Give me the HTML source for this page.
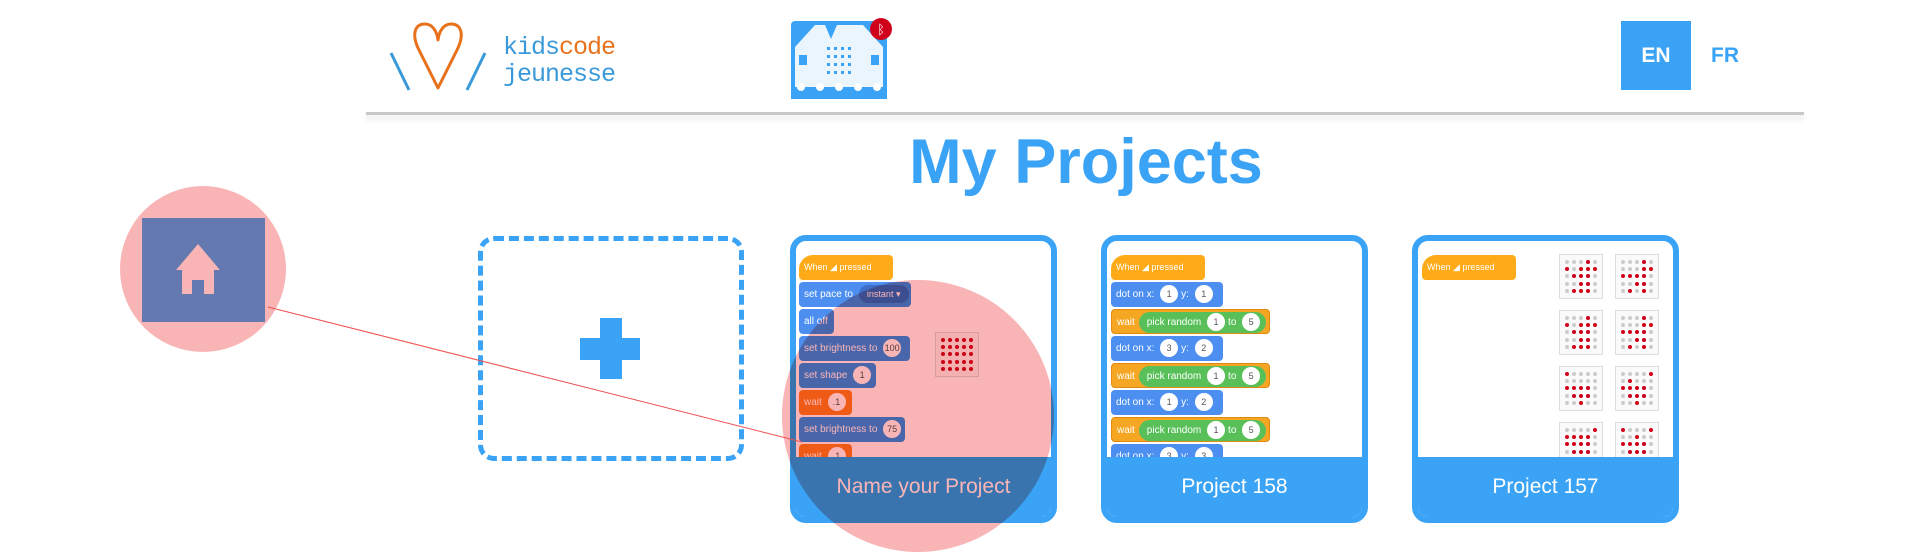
<!DOCTYPE html>
<html><head><meta charset="utf-8"><style>
*{margin:0;padding:0;box-sizing:border-box}
body{width:1920px;height:540px;background:#fff;position:relative;overflow:hidden;font-family:"Liberation Sans",sans-serif}
.a{position:absolute}
.card{position:absolute;top:235px;width:267px;height:288px;border:6px solid #3aa3f5;border-radius:16px;background:#fff;overflow:hidden}
.band{position:absolute;left:0;right:0;top:216px;bottom:0;background:#3aa3f5;color:#fff;font-size:21px;text-align:center;line-height:60px}
.b{position:absolute;height:25px;border-radius:4px;color:#fff;font-size:10px;line-height:25px;padding-left:5px;white-space:nowrap}
.hat{background:#ffab19;border-radius:14px 4px 4px 4px}
.blue{background:#4c8ff0}
.or{background:#f5a623;border:1px solid #e08a10}
.ow{background:#f5801f}
.p{display:inline-block;background:#fff;color:#555;border-radius:10px;height:18px;line-height:18px;min-width:18px;text-align:center;vertical-align:middle;margin:0 3px;font-size:9px}
.g{display:inline-block;background:#59c059;border-radius:11px;height:21px;line-height:21px;padding:0 3px 0 8px;vertical-align:middle;margin-left:4px}
.led{position:absolute;width:44px;height:45px;border:1px solid #ddd;background:#fafafa;display:grid;grid-template-columns:repeat(5,1fr);padding:4px;gap:2px}
.led i{width:4px;height:4px;border-radius:50%;background:#ccc;margin:auto}
.led i.r{background:#d0021b}
</style></head><body>

<!-- logo -->
<svg class="a" style="left:385px;top:18px" width="115" height="76" viewBox="0 0 115 76">
<path d="M53 70 L34 32 C26 16 30 6 40 6 C48 6 52 14 53 22 C54 14 58 6 66 6 C76 6 80 16 72 32 Z" fill="none" stroke="#e8721c" stroke-width="3" stroke-linejoin="round"/>
<line x1="6" y1="35" x2="24" y2="72" stroke="#3a9ad9" stroke-width="3"/>
<line x1="100" y1="35" x2="82" y2="72" stroke="#3a9ad9" stroke-width="3"/>
</svg>
<div class="a" style="left:503px;top:33px;font:25px 'Liberation Mono',monospace;color:#3a9ad9;letter-spacing:-1px">kids<span style="color:#e8721c">code</span></div>
<div class="a" style="left:503px;top:60px;font:25px 'Liberation Mono',monospace;color:#3a9ad9;letter-spacing:-1px">jeunesse</div>

<!-- microbit -->
<svg class="a" style="left:789px;top:17px" width="104" height="84" viewBox="0 0 104 84">
<rect x="2" y="4" width="96" height="78" rx="4" fill="#3aa3f5"/>
<rect x="6" y="8" width="88" height="66" fill="#eaf5fe"/>
<path d="M6 8 L26 8 L6 30Z M94 8 L74 8 L94 30Z M36 8 L48 8 L42 22Z" fill="#3aa3f5"/>
<g fill="#3aa3f5">
<rect x="38" y="30" width="3" height="3"/><rect x="45" y="30" width="3" height="3"/><rect x="52" y="30" width="3" height="3"/><rect x="59" y="30" width="3" height="3"/>
<rect x="38" y="38" width="3" height="3"/><rect x="45" y="38" width="3" height="3"/><rect x="52" y="38" width="3" height="3"/><rect x="59" y="38" width="3" height="3"/>
<rect x="38" y="46" width="3" height="3"/><rect x="45" y="46" width="3" height="3"/><rect x="52" y="46" width="3" height="3"/><rect x="59" y="46" width="3" height="3"/>
<rect x="38" y="54" width="3" height="3"/><rect x="45" y="54" width="3" height="3"/><rect x="52" y="54" width="3" height="3"/><rect x="59" y="54" width="3" height="3"/>
<rect x="10" y="38" width="8" height="10"/><rect x="82" y="38" width="8" height="10"/>
<rect x="2" y="70" width="96" height="12"/></g>
<g fill="#fff"><circle cx="12" cy="70" r="4"/><circle cx="31" cy="70" r="4"/><circle cx="50" cy="70" r="4"/><circle cx="69" cy="70" r="4"/><circle cx="88" cy="70" r="4"/></g>
<circle cx="92" cy="12" r="11" fill="#d0021b"/>
<text x="92" y="17" font-size="13" fill="#fff" text-anchor="middle" font-family="DejaVu Sans">ᛒ</text>
</svg>

<!-- lang -->
<div class="a" style="left:1621px;top:21px;width:70px;height:69px;background:#3aa3f5;color:#fff;font-weight:bold;font-size:21px;text-align:center;line-height:69px">EN</div>
<div class="a" style="left:1711px;top:21px;height:69px;color:#3aa3f5;font-weight:bold;font-size:21px;line-height:69px">FR</div>

<!-- header line -->
<div class="a" style="left:366px;top:112px;width:1438px;height:3px;background:#c8c8c8;box-shadow:0 4px 6px rgba(0,0,0,0.12)"></div>

<!-- title -->
<div class="a" style="left:0;width:1920px;top:126px;text-align:center;font-size:63px;font-weight:bold;color:#3aa3f5;padding-left:252px">My Projects</div>

<!-- dashed new box -->
<div class="a" style="left:478px;top:236px;width:266px;height:225px;border:5px dashed #3aa3f5;border-radius:16px"></div>
<div class="a" style="left:600px;top:318px;width:22px;height:61px;background:#3aa3f5"></div>
<div class="a" style="left:580px;top:338px;width:60px;height:22px;background:#3aa3f5"></div>

<!-- card 1 -->
<div class="card" style="left:790px">
<div class="b hat" style="left:3px;top:14px;width:94px;font-size:9px">When <span style="color:#fff">◢</span> pressed</div>
<div class="b blue" style="left:3px;top:41px;width:112px">set pace to <span class="p" style="background:#3d6ec8;color:#fff;width:50px">instant ▾</span></div>
<div class="b blue" style="left:3px;top:68px;width:35px">all off</div>
<div class="b blue" style="left:3px;top:95px;width:111px">set brightness to <span class="p">100</span></div>
<div class="b blue" style="left:3px;top:122px;width:77px">set shape <span class="p">1</span></div>
<div class="b ow" style="left:3px;top:149px;width:53px">wait <span class="p">.1</span></div>
<div class="b blue" style="left:3px;top:176px;width:106px">set brightness to <span class="p">75</span></div>
<div class="b ow" style="left:3px;top:203px;width:53px">wait <span class="p">.1</span></div>
<div class="led" style="left:139px;top:91px"><i class="r"></i><i class="r"></i><i class="r"></i><i class="r"></i><i class="r"></i><i class="r"></i><i class="r"></i><i class="r"></i><i class="r"></i><i class="r"></i><i class="r"></i><i class="r"></i><i class="r"></i><i class="r"></i><i class="r"></i><i class="r"></i><i class="r"></i><i class="r"></i><i class="r"></i><i class="r"></i><i class="r"></i><i class="r"></i><i class="r"></i><i class="r"></i><i class="r"></i></div>
<div class="band">Name your Project</div>
</div>

<!-- card 2 -->
<div class="card" style="left:1101px">
<div class="b hat" style="left:4px;top:14px;width:94px;font-size:9px">When ◢ pressed</div>
<div class="b blue" style="left:4px;top:41px;width:112px">dot on x: <span class="p">1</span>y: <span class="p">1</span></div>
<div class="b or" style="left:4px;top:68px;width:159px">wait<span class="g">pick random <span class="p">1</span>to <span class="p">5</span></span></div>
<div class="b blue" style="left:4px;top:95px;width:112px">dot on x: <span class="p">3</span>y: <span class="p">2</span></div>
<div class="b or" style="left:4px;top:122px;width:159px">wait<span class="g">pick random <span class="p">1</span>to <span class="p">5</span></span></div>
<div class="b blue" style="left:4px;top:149px;width:112px">dot on x: <span class="p">1</span>y: <span class="p">2</span></div>
<div class="b or" style="left:4px;top:176px;width:159px">wait<span class="g">pick random <span class="p">1</span>to <span class="p">5</span></span></div>
<div class="b blue" style="left:4px;top:203px;width:112px">dot on x: <span class="p">3</span>y: <span class="p">3</span></div>
<div class="band">Project 158</div>
</div>

<!-- card 3 -->
<div class="card" style="left:1412px">
<div class="b hat" style="left:4px;top:14px;width:94px;font-size:9px">When ◢ pressed</div>
<div class="led" style="left:141px;top:13px"><i></i><i></i><i></i><i class="r"></i><i></i><i class="r"></i><i></i><i class="r"></i><i class="r"></i><i class="r"></i><i></i><i class="r"></i><i class="r"></i><i class="r"></i><i></i><i></i><i></i><i class="r"></i><i class="r"></i><i></i><i></i><i class="r"></i><i class="r"></i><i class="r"></i><i></i></div>
<div class="led" style="left:197px;top:13px"><i></i><i></i><i></i><i class="r"></i><i></i><i></i><i></i><i></i><i class="r"></i><i class="r"></i><i class="r"></i><i class="r"></i><i class="r"></i><i class="r"></i><i></i><i></i><i></i><i class="r"></i><i class="r"></i><i></i><i></i><i class="r"></i><i></i><i class="r"></i><i></i></div>
<div class="led" style="left:141px;top:69px"><i></i><i></i><i></i><i class="r"></i><i></i><i class="r"></i><i></i><i class="r"></i><i class="r"></i><i class="r"></i><i></i><i class="r"></i><i class="r"></i><i class="r"></i><i></i><i></i><i></i><i class="r"></i><i class="r"></i><i></i><i></i><i class="r"></i><i class="r"></i><i class="r"></i><i></i></div>
<div class="led" style="left:197px;top:69px"><i></i><i></i><i></i><i class="r"></i><i></i><i></i><i></i><i></i><i class="r"></i><i class="r"></i><i class="r"></i><i class="r"></i><i class="r"></i><i class="r"></i><i></i><i></i><i></i><i class="r"></i><i class="r"></i><i></i><i></i><i class="r"></i><i></i><i class="r"></i><i></i></div>
<div class="led" style="left:141px;top:125px"><i class="r"></i><i></i><i></i><i></i><i></i><i></i><i></i><i></i><i></i><i></i><i class="r"></i><i class="r"></i><i class="r"></i><i class="r"></i><i></i><i></i><i class="r"></i><i class="r"></i><i class="r"></i><i></i><i></i><i></i><i class="r"></i><i></i><i></i></div>
<div class="led" style="left:197px;top:125px"><i></i><i></i><i></i><i></i><i class="r"></i><i></i><i class="r"></i><i></i><i></i><i></i><i class="r"></i><i class="r"></i><i class="r"></i><i class="r"></i><i></i><i></i><i class="r"></i><i class="r"></i><i class="r"></i><i></i><i></i><i></i><i class="r"></i><i></i><i></i></div>
<div class="led" style="left:141px;top:181px"><i></i><i></i><i></i><i></i><i class="r"></i><i class="r"></i><i class="r"></i><i class="r"></i><i class="r"></i><i></i><i class="r"></i><i class="r"></i><i class="r"></i><i class="r"></i><i></i><i></i><i class="r"></i><i class="r"></i><i class="r"></i><i></i><i></i><i></i><i></i><i></i><i></i></div>
<div class="led" style="left:197px;top:181px"><i class="r"></i><i></i><i></i><i></i><i class="r"></i><i></i><i></i><i class="r"></i><i></i><i></i><i class="r"></i><i class="r"></i><i class="r"></i><i class="r"></i><i></i><i></i><i class="r"></i><i class="r"></i><i class="r"></i><i></i><i></i><i></i><i></i><i></i><i></i></div>
<div class="band">Project 157</div>
</div>

<!-- small pink circle with home -->
<div class="a" style="left:120px;top:186px;width:166px;height:166px;border-radius:50%;background:#f9b5b6"></div>
<div class="a" style="left:142px;top:218px;width:123px;height:104px;background:#6379b0"></div>
<svg class="a" style="left:176px;top:244px" width="44" height="50" viewBox="0 0 44 50">
<path d="M22 0 L44 26 L38 26 L38 50 L28 50 L28 36 L16 36 L16 50 L6 50 L6 26 L0 26 Z" fill="#f9b5b6"/>
</svg>

<!-- big pink circle (multiply) -->
<div class="a" style="left:782px;top:280px;width:272px;height:272px;border-radius:50%;background:#f9b5b6;mix-blend-mode:multiply"></div>

<!-- connector line -->
<svg class="a" style="left:0;top:0" width="1920" height="540"><line x1="268" y1="307" x2="802" y2="442" stroke="#f05050" stroke-width="1"/></svg>
</body></html>
